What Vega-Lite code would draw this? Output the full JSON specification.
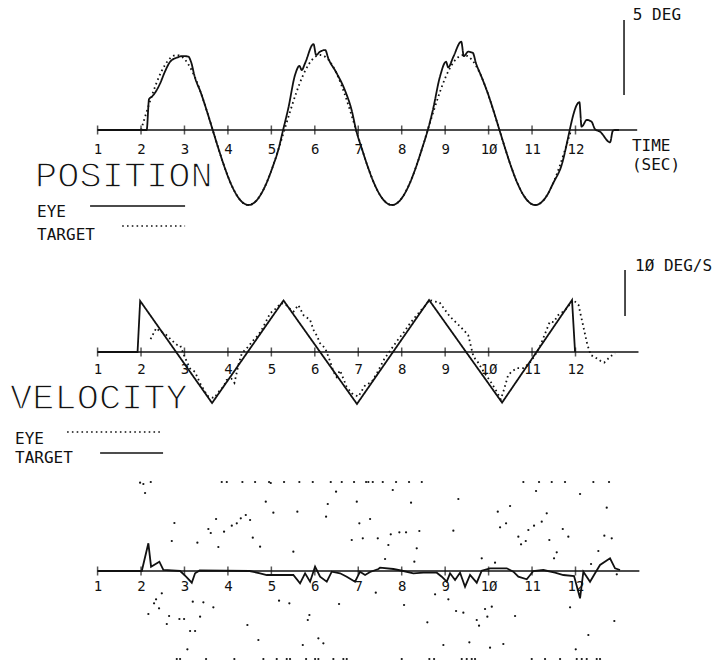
{
  "$schema": "https://vega.github.io/schema/vega-lite/v6.json",
  "padding": 0,
  "spacing": 0,
  "background": "white",
  "config": {"view": {"stroke": null}},
  "resolve": {"scale": {"x": "independent", "y": "independent", "strokeDash": "independent"}, "axis": {"x": "independent"}},
  "datasets": {
    "ticks": [{"t":1,"v":0},{"t":2,"v":0},{"t":3,"v":0},{"t":4,"v":0},{"t":5,"v":0},{"t":6,"v":0},{"t":7,"v":0},{"t":8,"v":0},{"t":9,"v":0},{"t":10,"v":0},{"t":11,"v":0},{"t":12,"v":0}],
    "pos": [
      {"s":"target","t":2.0,"v":0},{"s":"target","t":2.1375,"v":1.29},{"s":"target","t":2.275,"v":2.5},{"s":"target","t":2.4125,"v":3.54},{"s":"target","t":2.55,"v":4.33},{"s":"target","t":2.6875,"v":4.83},{"s":"target","t":2.825,"v":5},{"s":"target","t":2.9625,"v":4.83},{"s":"target","t":3.1,"v":4.33},{"s":"target","t":3.2375,"v":3.54},{"s":"target","t":3.375,"v":2.5},{"s":"target","t":3.5125,"v":1.29},{"s":"target","t":3.65,"v":0},{"s":"target","t":3.7875,"v":-1.29},{"s":"target","t":3.925,"v":-2.5},{"s":"target","t":4.0625,"v":-3.54},{"s":"target","t":4.2,"v":-4.33},{"s":"target","t":4.3375,"v":-4.83},{"s":"target","t":4.475,"v":-5},{"s":"target","t":4.6125,"v":-4.83},{"s":"target","t":4.75,"v":-4.33},{"s":"target","t":4.8875,"v":-3.54},{"s":"target","t":5.025,"v":-2.5},{"s":"target","t":5.1625,"v":-1.29},{"s":"target","t":5.3,"v":0},{"s":"target","t":5.4375,"v":1.29},{"s":"target","t":5.575,"v":2.5},{"s":"target","t":5.7125,"v":3.54},{"s":"target","t":5.85,"v":4.33},{"s":"target","t":5.9875,"v":4.83},{"s":"target","t":6.125,"v":5},{"s":"target","t":6.2625,"v":4.83},{"s":"target","t":6.4,"v":4.33},{"s":"target","t":6.5375,"v":3.54},{"s":"target","t":6.675,"v":2.5},{"s":"target","t":6.8125,"v":1.29},{"s":"target","t":6.95,"v":0},{"s":"target","t":7.0875,"v":-1.29},{"s":"target","t":7.225,"v":-2.5},{"s":"target","t":7.3625,"v":-3.54},{"s":"target","t":7.5,"v":-4.33},{"s":"target","t":7.6375,"v":-4.83},{"s":"target","t":7.775,"v":-5},{"s":"target","t":7.9125,"v":-4.83},{"s":"target","t":8.05,"v":-4.33},{"s":"target","t":8.1875,"v":-3.54},{"s":"target","t":8.325,"v":-2.5},{"s":"target","t":8.4625,"v":-1.29},{"s":"target","t":8.6,"v":0},{"s":"target","t":8.7375,"v":1.29},{"s":"target","t":8.875,"v":2.5},{"s":"target","t":9.0125,"v":3.54},{"s":"target","t":9.15,"v":4.33},{"s":"target","t":9.2875,"v":4.83},{"s":"target","t":9.425,"v":5},{"s":"target","t":9.5625,"v":4.83},{"s":"target","t":9.7,"v":4.33},{"s":"target","t":9.8375,"v":3.54},{"s":"target","t":9.975,"v":2.5},{"s":"target","t":10.1125,"v":1.29},{"s":"target","t":10.25,"v":0},{"s":"target","t":10.3875,"v":-1.29},{"s":"target","t":10.525,"v":-2.5},{"s":"target","t":10.6625,"v":-3.54},{"s":"target","t":10.8,"v":-4.33},{"s":"target","t":10.9375,"v":-4.83},{"s":"target","t":11.075,"v":-5},{"s":"target","t":11.2125,"v":-4.83},{"s":"target","t":11.35,"v":-4.33},{"s":"target","t":11.4875,"v":-3.54},{"s":"target","t":11.625,"v":-2.5},{"s":"target","t":11.7625,"v":-1.29},{"s":"target","t":11.9,"v":0},
      {"s":"eye","t":1,"v":0},{"s":"eye","t":2.13,"v":0},{"s":"eye","t":2.185,"v":2.07},{"s":"eye","t":2.25,"v":2.22},{"s":"eye","t":2.44,"v":3.11},{"s":"eye","t":2.55,"v":3.89},{"s":"eye","t":2.67,"v":4.55},{"s":"eye","t":2.82,"v":4.82},{"s":"eye","t":2.97,"v":4.93},{"s":"eye","t":3.09,"v":4.89},{"s":"eye","t":3.15,"v":4.55},{"s":"eye","t":3.2375,"v":3.54},{"s":"eye","t":3.375,"v":2.5},{"s":"eye","t":3.5125,"v":1.29},{"s":"eye","t":3.65,"v":0},{"s":"eye","t":3.7875,"v":-1.29},{"s":"eye","t":3.925,"v":-2.5},{"s":"eye","t":4.0625,"v":-3.54},{"s":"eye","t":4.2,"v":-4.33},{"s":"eye","t":4.3375,"v":-4.83},{"s":"eye","t":4.475,"v":-5},{"s":"eye","t":4.6125,"v":-4.83},{"s":"eye","t":4.75,"v":-4.33},{"s":"eye","t":4.8875,"v":-3.54},{"s":"eye","t":5.025,"v":-2.5},{"s":"eye","t":5.1625,"v":-1.29},{"s":"eye","t":5.27,"v":0},{"s":"eye","t":5.39,"v":1.45},{"s":"eye","t":5.545,"v":3.67},{"s":"eye","t":5.645,"v":4.27},{"s":"eye","t":5.7,"v":4.0},{"s":"eye","t":5.775,"v":4.45},{"s":"eye","t":5.97,"v":5.73},{"s":"eye","t":6.03,"v":5.0},{"s":"eye","t":6.12,"v":5.22},{"s":"eye","t":6.24,"v":5.33},{"s":"eye","t":6.31,"v":4.78},{"s":"eye","t":6.505,"v":3.78},{"s":"eye","t":6.7,"v":2.6},{"s":"eye","t":6.85,"v":1.3},{"s":"eye","t":6.95,"v":0},{"s":"eye","t":7.0875,"v":-1.29},{"s":"eye","t":7.225,"v":-2.5},{"s":"eye","t":7.3625,"v":-3.54},{"s":"eye","t":7.5,"v":-4.33},{"s":"eye","t":7.6375,"v":-4.83},{"s":"eye","t":7.775,"v":-5},{"s":"eye","t":7.9125,"v":-4.83},{"s":"eye","t":8.05,"v":-4.33},{"s":"eye","t":8.1875,"v":-3.54},{"s":"eye","t":8.325,"v":-2.5},{"s":"eye","t":8.4625,"v":-1.29},{"s":"eye","t":8.6,"v":0},{"s":"eye","t":8.715,"v":1.3},{"s":"eye","t":8.88,"v":3.55},{"s":"eye","t":9.02,"v":4.55},{"s":"eye","t":9.07,"v":4.18},{"s":"eye","t":9.19,"v":4.89},{"s":"eye","t":9.37,"v":5.89},{"s":"eye","t":9.43,"v":4.93},{"s":"eye","t":9.53,"v":5.22},{"s":"eye","t":9.635,"v":5.15},{"s":"eye","t":9.71,"v":4.45},{"s":"eye","t":9.8375,"v":3.54},{"s":"eye","t":9.975,"v":2.5},{"s":"eye","t":10.1125,"v":1.29},{"s":"eye","t":10.25,"v":0},{"s":"eye","t":10.3875,"v":-1.29},{"s":"eye","t":10.525,"v":-2.5},{"s":"eye","t":10.6625,"v":-3.54},{"s":"eye","t":10.8,"v":-4.33},{"s":"eye","t":10.9375,"v":-4.83},{"s":"eye","t":11.075,"v":-5},{"s":"eye","t":11.2125,"v":-4.83},{"s":"eye","t":11.35,"v":-4.33},{"s":"eye","t":11.4875,"v":-3.54},{"s":"eye","t":11.64,"v":-2.67},{"s":"eye","t":12.09,"v":1.85},{"s":"eye","t":12.14,"v":0.22},{"s":"eye","t":12.26,"v":0.67},{"s":"eye","t":12.37,"v":0.55},{"s":"eye","t":12.45,"v":0.05},{"s":"eye","t":12.565,"v":-0.11},{"s":"eye","t":12.795,"v":-0.82},{"s":"eye","t":12.86,"v":-0.05},{"s":"eye","t":12.91,"v":0},{"s":"eye","t":13.0,"v":0}
    ],
    "vel": [
      {"s":"target","t":1,"v":0},{"s":"target","t":1.92,"v":0},{"s":"target","t":1.98,"v":11.1},{"s":"target","t":3.635,"v":-11.1},{"s":"target","t":5.28,"v":11.2},{"s":"target","t":6.97,"v":-11.3},{"s":"target","t":8.63,"v":11.3},{"s":"target","t":10.31,"v":-11.0},{"s":"target","t":11.92,"v":11.3},{"s":"target","t":11.99,"v":0},
      {"s":"eye","t":2.22,"v":2.8},{"s":"eye","t":2.35,"v":5.2},{"s":"eye","t":2.42,"v":4.6},{"s":"eye","t":2.55,"v":4.0},{"s":"eye","t":2.7,"v":2.6},{"s":"eye","t":2.82,"v":1.6},{"s":"eye","t":2.9,"v":1.5},{"s":"eye","t":3.0,"v":-1.0},{"s":"eye","t":3.13,"v":-3.6},{"s":"eye","t":3.24,"v":-4.3},{"s":"eye","t":3.36,"v":-6.8},{"s":"eye","t":3.47,"v":-8.6},{"s":"eye","t":3.55,"v":-9.7},{"s":"eye","t":3.68,"v":-10.0},{"s":"eye","t":3.8,"v":-8.5},{"s":"eye","t":3.9,"v":-7.5},{"s":"eye","t":3.97,"v":-6.1},{"s":"eye","t":4.08,"v":-5.8},{"s":"eye","t":4.15,"v":-6.7},{"s":"eye","t":4.25,"v":-2.5},{"s":"eye","t":4.32,"v":-0.3},{"s":"eye","t":4.45,"v":1.0},{"s":"eye","t":4.59,"v":2.6},{"s":"eye","t":4.7,"v":3.7},{"s":"eye","t":4.8,"v":5.2},{"s":"eye","t":4.97,"v":8.4},{"s":"eye","t":5.11,"v":9.5},{"s":"eye","t":5.22,"v":10.6},{"s":"eye","t":5.32,"v":10.4},{"s":"eye","t":5.41,"v":9.5},{"s":"eye","t":5.51,"v":8.8},{"s":"eye","t":5.62,"v":10.2},{"s":"eye","t":5.74,"v":8.0},{"s":"eye","t":5.89,"v":7.0},{"s":"eye","t":5.97,"v":4.8},{"s":"eye","t":6.05,"v":3.5},{"s":"eye","t":6.12,"v":1.9},{"s":"eye","t":6.24,"v":0.8},{"s":"eye","t":6.35,"v":-2.0},{"s":"eye","t":6.43,"v":-4.3},{"s":"eye","t":6.5,"v":-5.4},{"s":"eye","t":6.58,"v":-4.0},{"s":"eye","t":6.73,"v":-7.5},{"s":"eye","t":6.85,"v":-9.0},{"s":"eye","t":7.0,"v":-9.7},{"s":"eye","t":7.16,"v":-7.2},{"s":"eye","t":7.31,"v":-6.5},{"s":"eye","t":7.43,"v":-4.6},{"s":"eye","t":7.6,"v":-1.5},{"s":"eye","t":7.75,"v":0.5},{"s":"eye","t":7.9,"v":2.5},{"s":"eye","t":8.05,"v":4.3},{"s":"eye","t":8.19,"v":6.2},{"s":"eye","t":8.3,"v":7.5},{"s":"eye","t":8.42,"v":8.8},{"s":"eye","t":8.55,"v":10.2},{"s":"eye","t":8.64,"v":11.3},{"s":"eye","t":8.75,"v":11.0},{"s":"eye","t":8.87,"v":10.8},{"s":"eye","t":9.0,"v":9.1},{"s":"eye","t":9.11,"v":7.7},{"s":"eye","t":9.23,"v":6.6},{"s":"eye","t":9.35,"v":5.5},{"s":"eye","t":9.42,"v":4.8},{"s":"eye","t":9.53,"v":3.7},{"s":"eye","t":9.65,"v":-1.0},{"s":"eye","t":9.76,"v":-2.3},{"s":"eye","t":9.9,"v":-4.5},{"s":"eye","t":10.05,"v":-6.5},{"s":"eye","t":10.18,"v":-8.5},{"s":"eye","t":10.28,"v":-10.3},{"s":"eye","t":10.36,"v":-8.0},{"s":"eye","t":10.45,"v":-5.0},{"s":"eye","t":10.53,"v":-4.3},{"s":"eye","t":10.65,"v":-3.5},{"s":"eye","t":10.8,"v":-3.5},{"s":"eye","t":10.91,"v":-2.8},{"s":"eye","t":11.05,"v":-1.0},{"s":"eye","t":11.18,"v":1.15},{"s":"eye","t":11.3,"v":4.0},{"s":"eye","t":11.41,"v":6.6},{"s":"eye","t":11.5,"v":6.5},{"s":"eye","t":11.6,"v":8.0},{"s":"eye","t":11.76,"v":9.1},{"s":"eye","t":11.95,"v":11.3},{"s":"eye","t":12.07,"v":10.2},{"s":"eye","t":12.22,"v":3.85},{"s":"eye","t":12.27,"v":1.7},{"s":"eye","t":12.35,"v":-0.65},{"s":"eye","t":12.45,"v":-1.15},{"s":"eye","t":12.57,"v":-1.9},{"s":"eye","t":12.66,"v":-2.3},{"s":"eye","t":12.8,"v":-1.0},{"s":"eye","t":12.91,"v":-0.3}
    ],
    "err": [
      {"t":1,"v":0},{"t":2.017,"v":0},{"t":2.169,"v":2.77},{"t":2.231,"v":0.43},{"t":2.422,"v":0.93},{"t":2.514,"v":0.1},{"t":2.9,"v":0},{"t":3.037,"v":-0.57},{"t":3.168,"v":-1.17},{"t":3.244,"v":-0.23},{"t":3.35,"v":0.05},{"t":4.5,"v":0},{"t":4.74,"v":-0.23},{"t":4.894,"v":-0.4},{"t":5.506,"v":-0.4},{"t":5.66,"v":-1.23},{"t":5.776,"v":-0.23},{"t":5.891,"v":-1.07},{"t":6.006,"v":0.43},{"t":6.121,"v":-0.57},{"t":6.275,"v":-1.07},{"t":6.39,"v":-0.07},{"t":6.581,"v":-0.23},{"t":6.735,"v":-0.57},{"t":6.926,"v":-1.07},{"t":7.041,"v":-0.07},{"t":7.157,"v":-0.4},{"t":7.272,"v":-0.1},{"t":7.463,"v":0.2},{"t":7.502,"v":0.33},{"t":7.808,"v":0.2},{"t":8.038,"v":0},{"t":8.268,"v":-0.23},{"t":8.498,"v":-0.17},{"t":8.807,"v":-0.17},{"t":8.922,"v":-0.57},{"t":9.037,"v":-1.07},{"t":9.113,"v":-0.23},{"t":9.228,"v":-0.9},{"t":9.343,"v":-0.17},{"t":9.458,"v":-1.57},{"t":9.573,"v":-0.4},{"t":9.727,"v":-1.17},{"t":9.842,"v":0.03},{"t":10.033,"v":0.27},{"t":10.418,"v":0.27},{"t":10.57,"v":-0.07},{"t":10.685,"v":-0.57},{"t":10.878,"v":-0.83},{"t":11.03,"v":0},{"t":11.26,"v":0.1},{"t":11.529,"v":-0.17},{"t":11.72,"v":-0.4},{"t":11.967,"v":-0.5},{"t":12.105,"v":-2.73},{"t":12.181,"v":-0.07},{"t":12.335,"v":-1.07},{"t":12.45,"v":-0.23},{"t":12.565,"v":0.6},{"t":12.795,"v":1.27},{"t":12.91,"v":0.27},{"t":13.025,"v":0.1}
    ],
    "dots": [
      {"t":1.978,"v":8.83},{"t":2.054,"v":8.7},{"t":2.224,"v":8.9},{"t":2.093,"v":7.8},{"t":2.768,"v":4.8},{"t":2.708,"v":3.0},{"t":3.297,"v":2.83},{"t":3.55,"v":4.2},{"t":3.605,"v":3.8},{"t":3.727,"v":5.2},{"t":3.78,"v":2.4},{"t":3.911,"v":3.93},{"t":4.089,"v":4.53},{"t":4.204,"v":4.77},{"t":4.296,"v":5.27},{"t":4.411,"v":5.6},{"t":4.51,"v":5.1},{"t":4.572,"v":3.33},{"t":4.74,"v":2.43},{"t":4.871,"v":6.93},{"t":5.046,"v":5.83},{"t":5.506,"v":1.93},{"t":5.598,"v":5.93},{"t":6.259,"v":5.43},{"t":6.298,"v":6.7},{"t":6.489,"v":7.93},{"t":6.966,"v":6.93},{"t":7.025,"v":4.77},{"t":7.272,"v":5.2},{"t":6.85,"v":3.1},{"t":7.104,"v":3.27},{"t":7.449,"v":3.27},
      {"t":3.858,"v":8.9},{"t":3.974,"v":8.9},{"t":4.333,"v":8.9},{"t":4.625,"v":8.9},{"t":4.947,"v":8.9},{"t":4.986,"v":8.8},{"t":5.292,"v":8.9},{"t":5.644,"v":8.9},{"t":5.953,"v":8.9},{"t":6.367,"v":8.9},{"t":6.62,"v":8.9},{"t":6.903,"v":8.9},{"t":7.18,"v":8.9},{"t":7.232,"v":8.9},{"t":7.334,"v":8.9},
      {"t":2.478,"v":-2.23},{"t":2.346,"v":-2.83},{"t":2.3,"v":-3.23},{"t":2.415,"v":-3.73},{"t":2.169,"v":-4.3},{"t":2.646,"v":-4.5},{"t":2.593,"v":-5.3},{"t":2.883,"v":-4.8},{"t":2.991,"v":-4.8},{"t":3.191,"v":-3.07},{"t":3.435,"v":-3.13},{"t":3.665,"v":-3.63},{"t":3.359,"v":-4.57},{"t":3.129,"v":-6.0},{"t":3.244,"v":-6.0},{"t":3.067,"v":-7.83},{"t":4.448,"v":-5.4},{"t":4.701,"v":-6.9},{"t":5.177,"v":-2.97},{"t":5.414,"v":-3.23},{"t":5.875,"v":-4.4},{"t":5.838,"v":-4.9},{"t":5.723,"v":-7.4},{"t":6.082,"v":-6.73},{"t":6.197,"v":-7.23},{"t":6.558,"v":-3.3},{"t":7.403,"v":-2.17},
      {"t":2.823,"v":-8.8},{"t":2.899,"v":-8.8},{"t":3.497,"v":-8.8},{"t":4.148,"v":-8.8},{"t":4.816,"v":-8.8},{"t":5.124,"v":-8.8},{"t":5.354,"v":-8.8},{"t":5.43,"v":-8.8},{"t":5.799,"v":-8.8},{"t":6.006,"v":-8.8},{"t":6.082,"v":-8.8},{"t":6.427,"v":-8.8},{"t":6.657,"v":-8.8},{"t":6.735,"v":-8.8},
      {"t":7.564,"v":8.9},{"t":7.87,"v":8.9},{"t":8.169,"v":8.9},{"t":8.462,"v":8.9},{"t":10.8,"v":8.9},{"t":11.161,"v":8.9},{"t":11.453,"v":8.9},{"t":11.759,"v":8.9},{"t":12.411,"v":8.9},{"t":12.772,"v":8.9},
      {"t":7.794,"v":8.1},{"t":8.215,"v":6.83},{"t":7.748,"v":3.67},{"t":7.946,"v":3.87},{"t":8.1,"v":3.87},{"t":8.406,"v":4.0},{"t":7.693,"v":2.6},{"t":8.346,"v":2.27},{"t":7.617,"v":1.2},{"t":8.291,"v":0.93},{"t":9.304,"v":7.2},{"t":9.189,"v":4.03},{"t":9.842,"v":1.27},{"t":10.148,"v":0.83},{"t":10.211,"v":5.93},{"t":10.494,"v":6.5},{"t":10.264,"v":4.37},{"t":10.402,"v":4.77},{"t":10.685,"v":3.43},{"t":10.747,"v":2.67},{"t":10.855,"v":3.0},{"t":10.915,"v":4.1},{"t":11.046,"v":4.53},{"t":11.223,"v":4.93},{"t":11.338,"v":5.77},{"t":11.092,"v":8.0},{"t":11.398,"v":3.1},{"t":11.568,"v":1.87},{"t":11.506,"v":1.27},{"t":11.707,"v":4.2},{"t":11.835,"v":3.43},{"t":12.105,"v":7.7},{"t":12.526,"v":2.0},{"t":12.664,"v":3.53},{"t":12.834,"v":3.27},{"t":12.719,"v":6.33},{"t":12.358,"v":0.7},
      {"t":8.768,"v":-2.33},{"t":9.074,"v":-2.83},{"t":8.054,"v":-3.4},{"t":8.59,"v":-5.13},{"t":9.251,"v":-4.0},{"t":9.419,"v":-4.17},{"t":9.918,"v":-3.8},{"t":10.073,"v":-3.57},{"t":9.727,"v":-4.9},{"t":9.78,"v":-5.47},{"t":9.971,"v":-4.57},{"t":10.609,"v":-4.5},{"t":8.959,"v":-7.4},{"t":9.557,"v":-7.13},{"t":10.033,"v":-7.67},{"t":10.339,"v":-7.3},{"t":11.875,"v":-3.63},{"t":12.296,"v":-6.4},{"t":12.006,"v":-7.83},{"t":12.894,"v":-5.0},{"t":12.95,"v":-0.33},
      {"t":8.001,"v":-8.8},{"t":8.636,"v":-8.8},{"t":8.745,"v":-8.8},{"t":9.382,"v":-8.8},{"t":9.497,"v":-8.8},{"t":9.612,"v":-8.8},{"t":9.688,"v":-8.8},{"t":10.993,"v":-8.8},{"t":11.299,"v":-8.8},{"t":11.645,"v":-8.8},{"t":12.029,"v":-8.8},{"t":12.144,"v":-8.8},{"t":12.259,"v":-8.8},{"t":12.489,"v":-8.8},{"t":12.565,"v":-8.8}
    ]
  },
  "vconcat": [
    {
      "width": 718, "height": 245,
      "encoding": {
        "x": {"field": "t", "type": "quantitative", "scale": {"domain": [-1.246, 15.28], "nice": false, "zero": false},
              "axis": {"values": [1,2,3,4,5,6,7,8,9,10,11,12], "format": "d", "labelExpr": "datum.value == 10 ? '1Ø' : datum.label", "domain": false, "ticks": false, "tickSize": 0, "grid": false, "title": null, "offset": -115, "labelPadding": 12, "labelFont": "DejaVu Sans Mono", "labelFontSize": 14, "labelColor": "#111", "labelFlush": false, "labelOverlap": false}},
        "y": {"field": "v", "type": "quantitative", "scale": {"domain": [-7.667, 8.667], "nice": false, "zero": false}, "axis": null}
      },
      "layer": [
        {"data": {"values": [{"t": 1, "t2": 13.42, "v": 0}]}, "mark": {"type": "rule", "color": "#111", "strokeWidth": 1.6}, "encoding": {"x2": {"field": "t2"}}},
        {"data": {"name": "ticks"}, "mark": {"type": "tick", "orient": "vertical", "size": 9, "thickness": 1.5, "color": "#111"}, "encoding": {}},
        {"data": {"values": [{"t": 13.117, "v": 2.33, "v2": 7.33}]}, "mark": {"type": "rule", "color": "#111", "strokeWidth": 1.5}, "encoding": {"y2": {"field": "v2"}}},
        {"data": {"name": "pos"}, "mark": {"type": "line", "color": "#111", "strokeWidth": 1.8, "interpolate": "monotone"},
         "encoding": {"strokeDash": {"field": "s", "type": "nominal", "scale": {"domain": ["eye", "target"], "range": [[1, 0], [1.6, 3.2]]}, "legend": null}}},
        {"data": {"values": [{"t": 0.827, "t2": 3.014, "v": -5.07, "s": "eye"}, {"t": 1.566, "t2": 3.014, "v": -6.4, "s": "target"}]},
         "mark": {"type": "rule", "color": "#111", "strokeWidth": 1.6},
         "encoding": {"x2": {"field": "t2"}, "strokeDash": {"field": "s", "type": "nominal", "scale": {"domain": ["eye", "target"], "range": [[1, 0], [1.6, 3.2]]}, "legend": null}}},
        {"data": {"values": [{"t": -0.438, "v": -3.1, "label": "POSITION"}]}, "mark": {"type": "text", "align": "left", "baseline": "middle", "font": "Liberation Mono", "fontSize": 37, "color": "#111", "stroke": "white", "strokeWidth": 1.3}, "encoding": {"text": {"field": "label"}}},
        {"data": {"values": [{"t": -0.392, "v": -5.5, "label": "EYE"}, {"t": -0.392, "v": -6.97, "label": "TARGET"}, {"t": 13.3, "v": -1.07, "label": "TIME"}, {"t": 13.3, "v": -2.33, "label": "(SEC)"}, {"t": 13.32, "v": 7.7, "label": "5 DEG"}]},
         "mark": {"type": "text", "align": "left", "baseline": "middle", "font": "DejaVu Sans Mono", "fontSize": 16, "color": "#111"}, "encoding": {"text": {"field": "label"}}}
      ]
    },
    {
      "width": 718, "height": 223,
      "encoding": {
        "x": {"field": "t", "type": "quantitative", "scale": {"domain": [-1.246, 15.28], "nice": false, "zero": false},
              "axis": {"values": [1,2,3,4,5,6,7,8,9,10,11,12], "format": "d", "labelExpr": "datum.value == 10 ? '1Ø' : datum.label", "domain": false, "ticks": false, "tickSize": 0, "grid": false, "title": null, "offset": -116, "labelPadding": 10, "labelFont": "DejaVu Sans Mono", "labelFontSize": 14, "labelColor": "#111", "labelFlush": false, "labelOverlap": false}},
        "y": {"field": "v", "type": "quantitative", "scale": {"domain": [-25.22, 23.26], "nice": false, "zero": false}, "axis": null}
      },
      "layer": [
        {"data": {"values": [{"t": 1, "t2": 13.45, "v": 0}]}, "mark": {"type": "rule", "color": "#111", "strokeWidth": 1.6}, "encoding": {"x2": {"field": "t2"}}},
        {"data": {"name": "ticks"}, "mark": {"type": "tick", "orient": "vertical", "size": 9, "thickness": 1.5, "color": "#111"}, "encoding": {}},
        {"data": {"values": [{"t": 13.14, "v": 7.83, "v2": 17.83}]}, "mark": {"type": "rule", "color": "#111", "strokeWidth": 1.5}, "encoding": {"y2": {"field": "v2"}}},
        {"data": {"name": "vel"}, "mark": {"type": "line", "color": "#111", "strokeWidth": 1.8},
         "encoding": {"strokeDash": {"field": "s", "type": "nominal", "scale": {"domain": ["eye", "target"], "range": [[1.6, 3.2], [1, 0]]}, "legend": null}}},
        {"data": {"values": [{"t": 0.298, "t2": 2.484, "v": -17.39, "s": "eye"}, {"t": 1.058, "t2": 2.507, "v": -21.96, "s": "target"}]},
         "mark": {"type": "rule", "color": "#111", "strokeWidth": 1.6},
         "encoding": {"x2": {"field": "t2"}, "strokeDash": {"field": "s", "type": "nominal", "scale": {"domain": ["eye", "target"], "range": [[1.6, 3.2], [1, 0]]}, "legend": null}}},
        {"data": {"values": [{"t": -1.014, "v": -10.11, "label": "VELOCITY"}]}, "mark": {"type": "text", "align": "left", "baseline": "middle", "font": "Liberation Mono", "fontSize": 37, "color": "#111", "stroke": "white", "strokeWidth": 1.3}, "encoding": {"text": {"field": "label"}}},
        {"data": {"values": [{"t": -0.899, "v": -18.91, "label": "EYE"}, {"t": -0.899, "v": -23.15, "label": "TARGET"}, {"t": 13.37, "v": 18.7, "label": "1Ø DEG/S"}]},
         "mark": {"type": "text", "align": "left", "baseline": "middle", "font": "DejaVu Sans Mono", "fontSize": 16, "color": "#111"}, "encoding": {"text": {"field": "label"}}}
      ]
    },
    {
      "width": 718, "height": 193,
      "encoding": {
        "x": {"field": "t", "type": "quantitative", "scale": {"domain": [-1.246, 15.28], "nice": false, "zero": false},
              "axis": {"values": [1,2,3,4,5,6,7,8,9,10,11,12], "format": "d", "labelExpr": "datum.value == 10 ? '1Ø' : datum.label", "domain": false, "ticks": false, "tickSize": 0, "grid": false, "title": null, "offset": -90, "labelPadding": 8, "labelFont": "DejaVu Sans Mono", "labelFontSize": 14, "labelColor": "#111", "labelFlush": false, "labelOverlap": false}},
        "y": {"field": "v", "type": "quantitative", "scale": {"domain": [-9.0, 10.3], "nice": false, "zero": false}, "axis": null}
      },
      "layer": [
        {"data": {"values": [{"t": 1, "t2": 13.47, "v": 0}]}, "mark": {"type": "rule", "color": "#111", "strokeWidth": 1.6}, "encoding": {"x2": {"field": "t2"}}},
        {"data": {"name": "ticks"}, "mark": {"type": "tick", "orient": "vertical", "size": 9, "thickness": 1.5, "color": "#111"}, "encoding": {}},
        {"data": {"name": "err"}, "mark": {"type": "line", "color": "#111", "strokeWidth": 1.8}, "encoding": {}},
        {"data": {"name": "dots"}, "mark": {"type": "point", "filled": true, "size": 5, "color": "#111", "opacity": 1}, "encoding": {}}
      ]
    }
  ]
}
